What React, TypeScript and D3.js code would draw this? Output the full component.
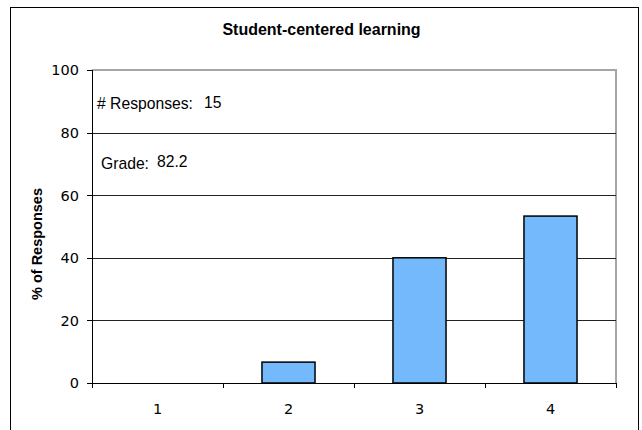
import React from "react";
import * as d3 from "d3";

const categories = ["1", "2", "3", "4"];
const percentages = [0, 6.67, 40, 53.33];
const yTicks = [0, 20, 40, 60, 80, 100];
const title = "Student-centered learning";
const yLabel = "% of Responses";
const responsesLabel = "# Responses:";
const responsesValue = "15";
const gradeLabel = "Grade:";
const gradeValue = "82.2";

export default function App() {
  const W = 642;
  const H = 430;
  const left = 92;
  const right = 616;
  const top = 70;
  const bottom = 383;

  const x = d3.scaleBand<string>().domain(categories).range([left, right]).padding(0);
  const y = d3.scaleLinear().domain([0, 100]).range([bottom, top]);
  const barW = x.bandwidth() * 0.405;
  const boundaries = [...categories.map((c) => x(c) as number), right];

  const tickFont = "'DejaVu Sans', Verdana, sans-serif";
  const noteFont = "'Liberation Sans', Arial, sans-serif";

  return (
    <svg
      width={W}
      height={H}
      style={{ position: "absolute", left: 0, top: 0, background: "#fff" }}
    >
      <rect x={0} y={0} width={W} height={H} fill="#fff" />
      {/* outer frame */}
      <rect x={10.5} y={7.5} width={628} height={440} fill="none" stroke="#000" strokeWidth={1} />

      {/* title */}
      <text
        x={321.5}
        y={35}
        textAnchor="middle"
        fontFamily="'Liberation Sans', Arial, sans-serif"
        fontWeight="bold"
        fontSize={16}
        fill="#000"
      >
        {title}
      </text>

      {/* plot border (top/right) */}
      <line x1={left} x2={right} y1={top} y2={top} stroke="#a6a6a6" strokeWidth={2} />
      <line x1={right} x2={right} y1={top - 1} y2={bottom} stroke="#a6a6a6" strokeWidth={2} />

      {/* gridlines */}
      {yTicks
        .filter((t) => t !== 0 && t !== 100)
        .map((t) => (
          <line
            key={"g" + t}
            x1={left}
            x2={right}
            y1={Math.round(y(t)) + 0.5}
            y2={Math.round(y(t)) + 0.5}
            stroke="#222"
            strokeWidth={1}
          />
        ))}

      {/* bars */}
      {categories.map((c, i) => {
        const cx = (x(c) as number) + x.bandwidth() / 2;
        const v = percentages[i];
        if (v <= 0) return null;
        return (
          <rect
            key={"b" + c}
            x={cx - barW / 2}
            y={y(v)}
            width={barW}
            height={y(0) - y(v)}
            fill="#75b9fd"
            stroke="#000"
            strokeWidth={1.5}
          />
        );
      })}

      {/* y axis */}
      <line x1={left + 0.5} x2={left + 0.5} y1={top} y2={bottom} stroke="#000" strokeWidth={1} />
      {yTicks.map((t) => (
        <g key={"yt" + t}>
          <line
            x1={left - 5}
            x2={left}
            y1={Math.round(y(t)) + 0.5}
            y2={Math.round(y(t)) + 0.5}
            stroke="#000"
          />
          <text
            x={79}
            y={y(t) + 5.3}
            textAnchor="end"
            fontFamily={tickFont}
            fontSize={14.5}
            fill="#000"
          >
            {t}
          </text>
        </g>
      ))}

      {/* x axis */}
      <line x1={left} x2={right + 1} y1={bottom + 0.5} y2={bottom + 0.5} stroke="#000" strokeWidth={1} />
      {boundaries.map((b, i) => (
        <line
          key={"xt" + i}
          x1={Math.round(b) + 0.5}
          x2={Math.round(b) + 0.5}
          y1={bottom}
          y2={bottom + 5}
          stroke="#000"
        />
      ))}
      {categories.map((c) => (
        <text
          key={"xl" + c}
          x={(x(c) as number) + x.bandwidth() / 2}
          y={414}
          textAnchor="middle"
          fontFamily={tickFont}
          fontSize={14.5}
          fill="#000"
        >
          {c}
        </text>
      ))}

      {/* y label */}
      <text
        transform="translate(42,244) rotate(-90)"
        textAnchor="middle"
        fontFamily="'Liberation Sans', Arial, sans-serif"
        fontWeight="bold"
        fontSize={14.5}
        fill="#000"
      >
        {yLabel}
      </text>

      {/* annotations */}
      <text x={97} y={109} fontFamily={noteFont} fontSize={15.7} fill="#000">
        {responsesLabel}
      </text>
      <text x={204} y={107.5} fontFamily={noteFont} fontSize={15.7} fill="#000">
        {responsesValue}
      </text>
      <text x={101} y={169} fontFamily={noteFont} fontSize={15.7} fill="#000">
        {gradeLabel}
      </text>
      <text x={157} y={167} fontFamily={noteFont} fontSize={15.7} fill="#000">
        {gradeValue}
      </text>
    </svg>
  );
}
